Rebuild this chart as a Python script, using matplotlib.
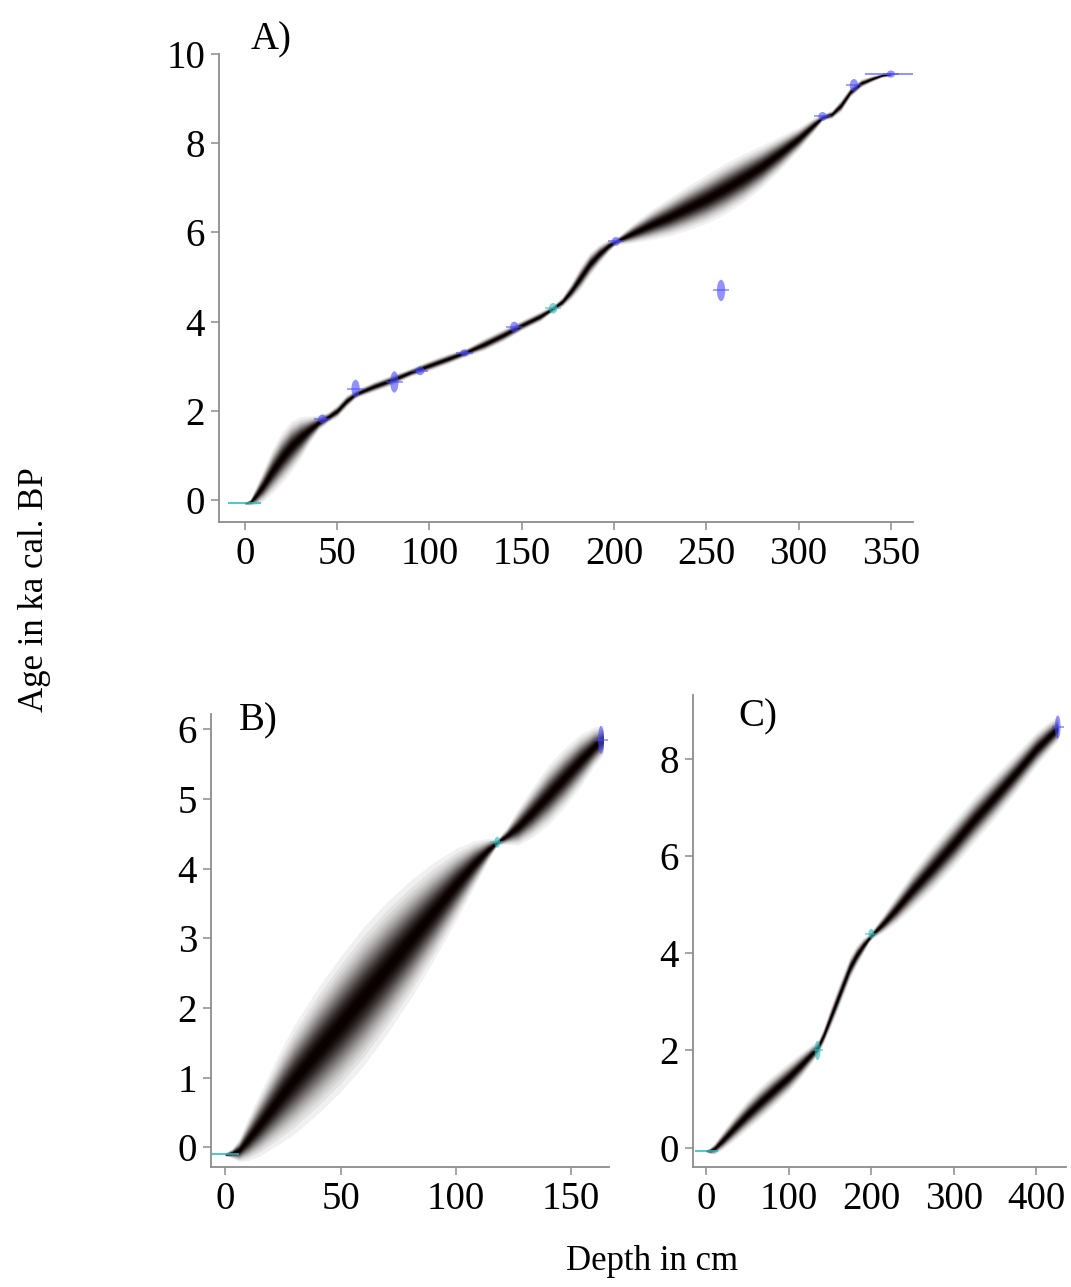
import matplotlib
matplotlib.use("Agg")
import matplotlib.pyplot as plt
from matplotlib.patches import Ellipse
import numpy as np

plt.rcParams['font.family'] = ['Liberation Serif', 'DejaVu Serif']

# core A: median age-depth curve and its spread (ka)
a_depth = [0, 3, 6, 10, 15, 20, 25, 30, 35, 40, 45, 50, 55, 60, 70, 80, 90, 100, 110, 120,
           130, 140, 150, 160, 167, 172, 177, 182, 187, 192, 197, 201, 210, 220, 230, 240,
           250, 260, 270, 280, 290, 300, 308, 313, 318, 323, 328, 334, 340, 345, 350]
a_age = [-0.07, -0.04, 0.1, 0.33, 0.66, 0.95, 1.2, 1.4, 1.58, 1.74, 1.86, 2.0, 2.22, 2.38,
         2.55, 2.7, 2.87, 3.02, 3.17, 3.32, 3.5, 3.7, 3.92, 4.12, 4.3, 4.45, 4.7, 5.0, 5.3,
         5.52, 5.7, 5.8, 5.98, 6.17, 6.35, 6.55, 6.75, 6.98, 7.22, 7.48, 7.78, 8.1, 8.4,
         8.58, 8.65, 8.85, 9.15, 9.35, 9.45, 9.52, 9.55]
a_spread = [0.01, 0.03, 0.09, 0.15, 0.21, 0.24, 0.24, 0.2, 0.13, 0.07, 0.05, 0.06, 0.06,
            0.04, 0.05, 0.05, 0.04, 0.05, 0.05, 0.04, 0.06, 0.06, 0.05, 0.05, 0.03, 0.05,
            0.08, 0.11, 0.11, 0.09, 0.06, 0.03, 0.09, 0.14, 0.18, 0.21, 0.23, 0.24, 0.23,
            0.2, 0.16, 0.11, 0.07, 0.03, 0.04, 0.06, 0.05, 0.04, 0.03, 0.02, 0.02]
a_date_depth = [0, 42, 60, 81, 95, 119, 146, 167, 201, 258, 313, 330, 350]
a_date_age = [-0.07, 1.82, 2.5, 2.65, 2.9, 3.3, 3.88, 4.3, 5.8, 4.7, 8.6, 9.3, 9.55]
a_date_sd = [0.02, 0.05, 0.1, 0.12, 0.05, 0.04, 0.06, 0.06, 0.05, 0.12, 0.05, 0.07, 0.04]
a_date_kind = ['pb', 'c14', 'c14', 'c14', 'c14', 'c14', 'c14', 'pb', 'c14', 'c14', 'c14',
               'c14', 'c14']

# core B
b_depth = [0, 3, 6, 10, 15, 20, 25, 30, 40, 50, 60, 70, 80, 90, 100, 108, 114, 118, 122,
           127, 133, 140, 147, 154, 160, 164]
b_age = [-0.1, -0.08, -0.04, 0.12, 0.33, 0.55, 0.77, 0.98, 1.38, 1.77, 2.17, 2.57, 2.97,
         3.37, 3.77, 4.07, 4.27, 4.38, 4.47, 4.6, 4.8, 5.05, 5.3, 5.55, 5.75, 5.85]
b_spread = [0.01, 0.03, 0.07, 0.13, 0.19, 0.24, 0.29, 0.33, 0.38, 0.41, 0.42, 0.4, 0.36,
            0.3, 0.22, 0.14, 0.07, 0.02, 0.05, 0.11, 0.15, 0.18, 0.18, 0.16, 0.12, 0.09]
b_date_depth = [0, 118, 163]
b_date_age = [-0.1, 4.38, 5.85]
b_date_sd = [0.02, 0.04, 0.1]
b_date_kind = ['pb', 'pb', 'c14']

# core C
c_depth = [0, 5, 10, 20, 35, 50, 65, 80, 100, 115, 128, 135, 142, 150, 158, 166, 174, 182,
           190, 197, 202, 215, 230, 250, 275, 300, 325, 350, 375, 400, 415, 426]
c_age = [-0.07, -0.06, -0.02, 0.15, 0.42, 0.68, 0.92, 1.15, 1.45, 1.7, 1.93, 2.05, 2.3,
         2.65, 3.0, 3.35, 3.7, 3.95, 4.15, 4.3, 4.4, 4.62, 4.9, 5.3, 5.77, 6.25, 6.75, 7.22,
         7.7, 8.2, 8.45, 8.62]
c_spread = [0.01, 0.03, 0.05, 0.08, 0.11, 0.13, 0.14, 0.14, 0.13, 0.11, 0.08, 0.06, 0.07,
            0.09, 0.1, 0.1, 0.1, 0.09, 0.07, 0.04, 0.04, 0.08, 0.12, 0.16, 0.19, 0.2,
            0.2, 0.19, 0.17, 0.15, 0.13, 0.11]
c_date_depth = [0, 135, 200, 426]
c_date_age = [-0.07, 2.0, 4.4, 8.65]
c_date_sd = [0.02, 0.1, 0.05, 0.12]
c_date_kind = ['pb', 'pb', 'pb', 'c14']

date_colors = {'c14': '#4b4bff', 'pb': '#2fb8b8'}

# grey-scale layering: many faint fills so darkness falls off like a bell curve
ALPHA = 0.06
layers = []
for k in range(1, 58):
    layers.append(np.sqrt(-2 * np.log((1 - np.exp(-ALPHA * k)) / 0.97)))


def draw_core(ax, depth, age, spread, d_depth, d_age, d_sd, d_kind, ell_w, bar_w):
    depth = np.array(depth)
    age = np.array(age)
    spread = np.array(spread)
    for z in layers:
        ax.fill_between(depth, age - z * spread, age + z * spread,
                        color='#0a0000', alpha=ALPHA, lw=0)
    for d, a, s, k in zip(d_depth, d_age, d_sd, d_kind):
        col = date_colors[k]
        if d == 0:
            ax.hlines(a, d - bar_w, d + bar_w, color=col, lw=1.5, alpha=0.8)
            continue
        ax.add_patch(Ellipse((d, a), ell_w, 4 * s, color=col, alpha=0.6, lw=0))
        ax.hlines(a, d - bar_w / 2, d + bar_w / 2, color=col, lw=1.2, alpha=0.6)


def style(ax, xt, yt, xlim, ylim):
    ax.set_xlim(*xlim)
    ax.set_ylim(*ylim)
    ax.set_xticks(xt)
    ax.set_yticks(yt)
    for s in ['top', 'right']:
        ax.spines[s].set_visible(False)
    for s in ['left', 'bottom']:
        ax.spines[s].set_color('#8c8c8c')
        ax.spines[s].set_linewidth(1.3)
    ax.tick_params(direction='out', length=6, width=1.1, color='#8c8c8c',
                   labelsize=28, pad=4)


fig = plt.figure(figsize=(10.71, 12.87), dpi=100)
W, H = 1071, 1287

axA = fig.add_axes([219 / W, 1 - 522 / H, 694 / W, 468 / H])
draw_core(axA, a_depth, a_age, a_spread, a_date_depth, a_date_age, a_date_sd,
          a_date_kind, 4.5, 9)
axA.hlines(a_date_age[-1], 336, 362, color=date_colors['c14'], lw=1.2, alpha=0.7)
style(axA, range(0, 351, 50), range(0, 11, 2), (-14, 362), (-0.49, 10.0))

axB = fig.add_axes([211 / W, 1 - 1167 / H, 398 / W, 453 / H])
draw_core(axB, b_depth, b_age, b_spread, b_date_depth, b_date_age, b_date_sd,
          b_date_kind, 2.5, 6)
style(axB, [0, 50, 100, 150], range(0, 7), (-6.2, 166.5), (-0.28, 6.22))

axC = fig.add_axes([693 / W, 1 - 1167 / H, 373 / W, 472 / H])
draw_core(axC, c_depth, c_age, c_spread, c_date_depth, c_date_age, c_date_sd,
          c_date_kind, 7.0, 14)
style(axC, range(0, 401, 100), range(0, 9, 2), (-16, 436), (-0.4, 9.31))

fig.text(271 / W, 1 - 40 / H, 'A)', fontsize=28, ha='center', va='center')
fig.text(258 / W, 1 - 721 / H, 'B)', fontsize=28, ha='center', va='center')
fig.text(758 / W, 1 - 717 / H, 'C)', fontsize=28, ha='center', va='center')

fig.text(35 / W, 1 - 590 / H, 'Age in ka cal. BP', fontsize=25, rotation=90,
         ha='center', va='center')
fig.text(652 / W, 1 - 1262 / H, 'Depth in cm', fontsize=25, ha='center', va='center')

fig.savefig('out.png', dpi=100)
